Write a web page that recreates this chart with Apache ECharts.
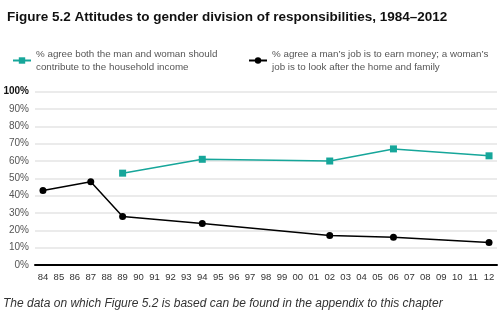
<!DOCTYPE html>
<html><head><meta charset="utf-8">
<script src="https://cdn.jsdelivr.net/npm/echarts@6/dist/echarts.min.js"></script>
<style>html,body{margin:0;padding:0;background:#fff}#c{width:499px;height:325px}</style>
</head><body><div id="c"></div>
<script>
const years = ['84','85','86','87','88','89','90','91','92','93','94','95','96','97','98','99','00','01','02','03','04','05','06','07','08','09','10','11','12'];
const bothContribute = [null,null,null,null,null,53,null,null,null,null,61,null,null,null,null,null,null,null,60,null,null,null,67,null,null,null,null,null,63];
const traditional = [43,null,null,48,null,28,null,null,null,null,24,null,null,null,null,null,null,null,17,null,null,null,16,null,null,null,null,null,13];
const nameA = '% agree both the man and woman should\ncontribute to the household income';
const nameB = '% agree a man\u2019s job is to earn money; a woman\u2019s\njob is to look after the home and family';
const FONT = '"Liberation Sans", Arial, sans-serif';
const chart = echarts.init(document.getElementById('c'));
const legendText = {fontFamily: FONT, fontSize: 9.8, color: '#555', lineHeight: 13, padding: [13,0,0,0]};
chart.setOption({
  animation: false,
  textStyle: {fontFamily: FONT},
  title: {
    text: 'Figure 5.2 Attitudes to gender division of responsibilities, 1984\u20132012',
    left: 2, top: 5,
    textStyle: {fontFamily: FONT, fontSize: 13.5, fontWeight: 'bold', color: '#111'}
  },
  legend: [
    {data: [nameA], left: 7, top: 36, itemWidth: 18, itemHeight: 8, textStyle: legendText},
    {data: [nameB], left: 243, top: 36, itemWidth: 18, itemHeight: 8, textStyle: legendText}
  ],
  graphic: [{
    type: 'text', left: 3, top: 298,
    style: {text: 'The data on which Figure 5.2 is based can be found in the appendix to this chapter',
      font: 'italic 12px ' + FONT, fill: '#333'}
  }],
  grid: {left: 35, right: 2, top: 91.7, bottom: 60, containLabel: false},
  xAxis: {
    type: 'category', data: years, boundaryGap: true,
    axisLine: {lineStyle: {color: '#000', width: 2}},
    axisTick: {alignWithLabel: true, length: 4, lineStyle: {color: '#000'}},
    axisLabel: {interval: 0, color: '#333', fontSize: 9.5, margin: 7}
  },
  yAxis: {
    type: 'value', min: 0, max: 100, interval: 10,
    axisLine: {show: false}, axisTick: {show: false},
    splitLine: {lineStyle: {color: '#e4e4e4', width: 1.5}},
    axisLabel: {
      margin: 6, color: '#555', fontSize: 10,
      formatter: v => v === 100 ? '{b|100%}' : v + '%',
      rich: {b: {fontWeight: 'bold', color: '#111', fontSize: 10}}
    }
  },
  series: [
    {name: nameA, type: 'line', data: bothContribute, connectNulls: true,
      symbol: 'rect', symbolSize: 7, color: '#16a69a',
      lineStyle: {width: 1.5, color: '#16a69a'}, itemStyle: {color: '#16a69a'}},
    {name: nameB, type: 'line', data: traditional, connectNulls: true,
      symbol: 'circle', symbolSize: 7, color: '#000',
      lineStyle: {width: 1.5, color: '#000'}, itemStyle: {color: '#000'}}
  ]
});
</script></body></html>
